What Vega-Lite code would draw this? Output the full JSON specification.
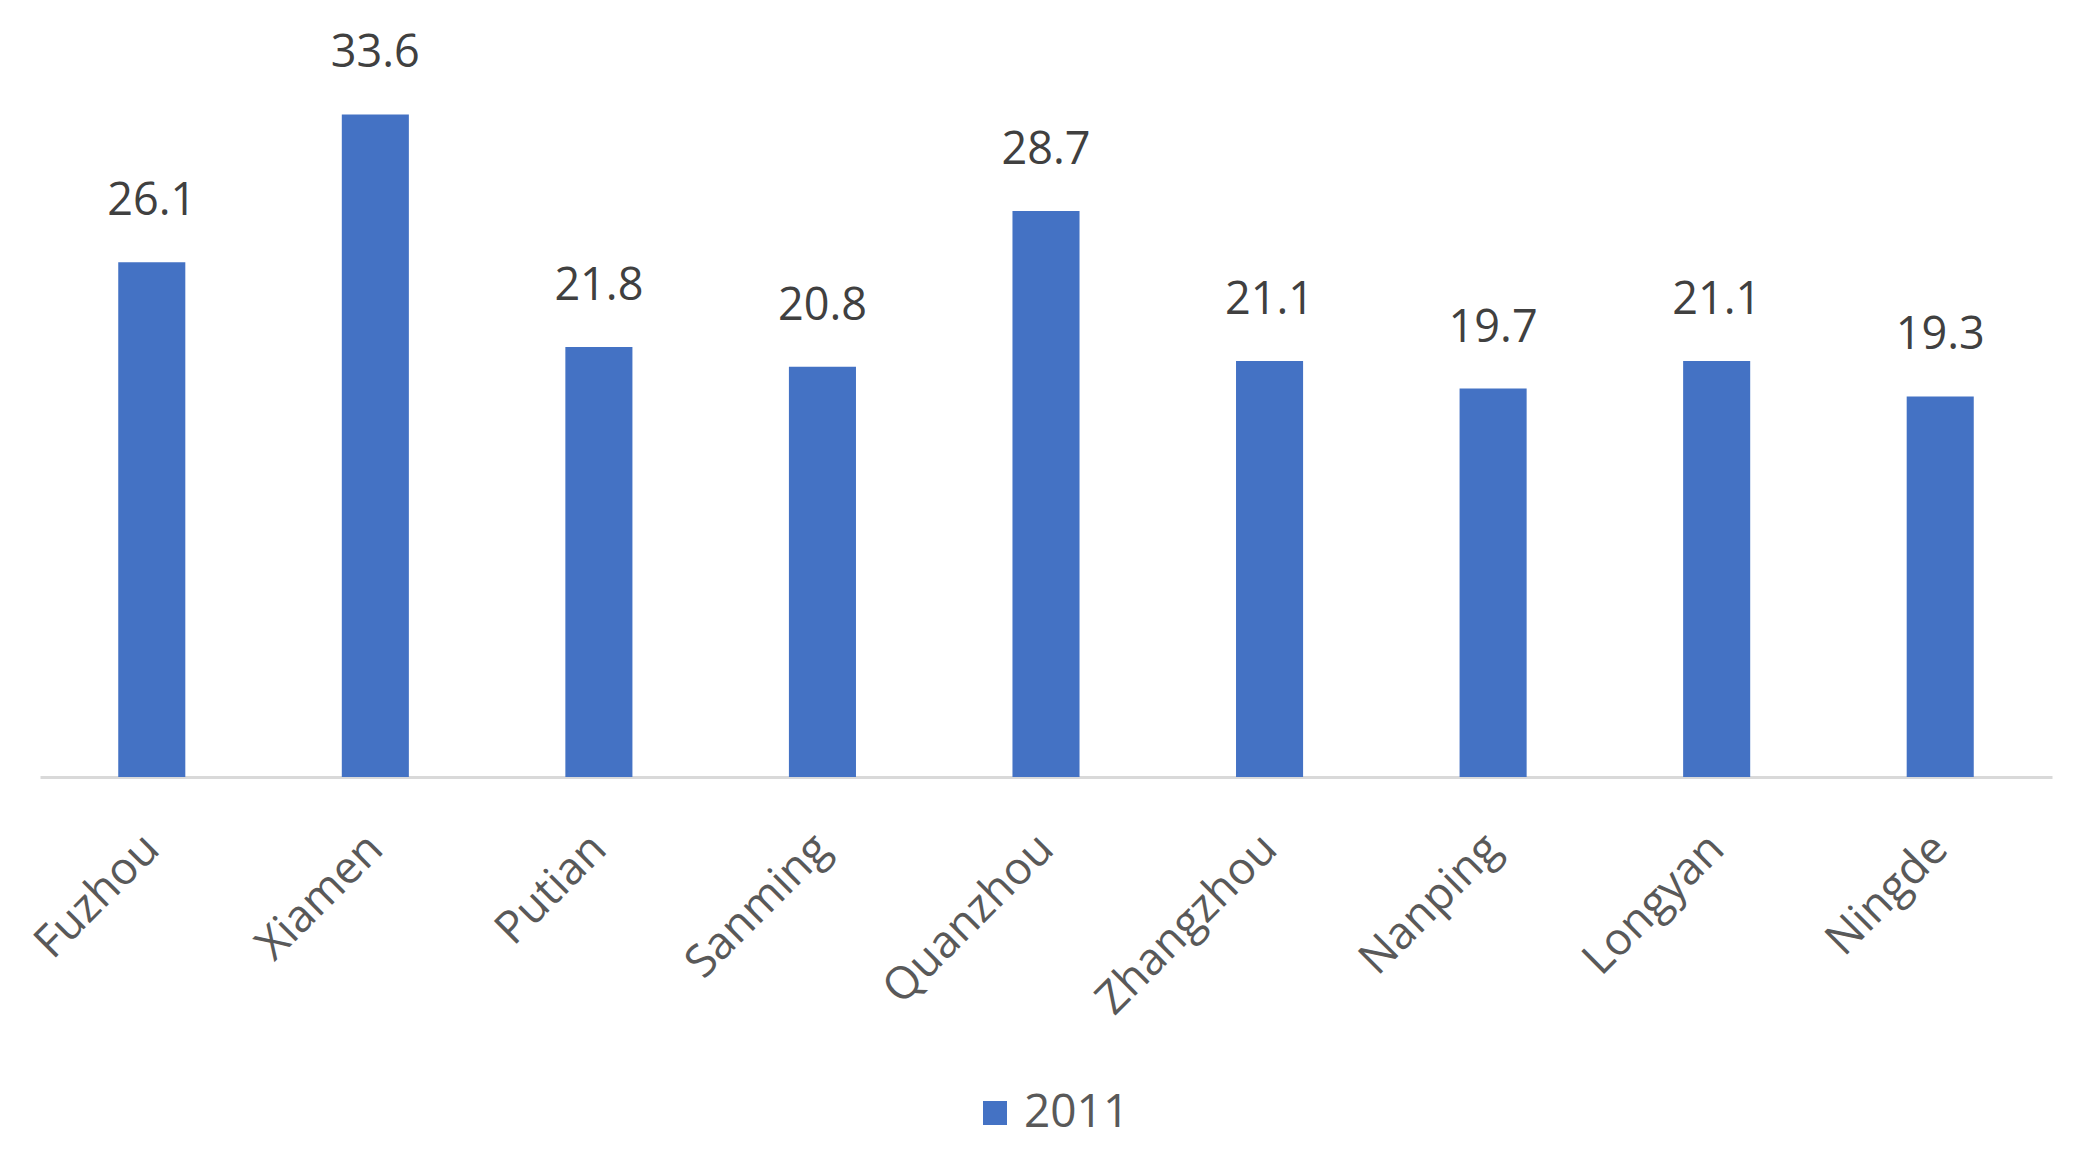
{
  "$schema": "https://vega.github.io/schema/vega-lite/v6.json",
  "autosize": "none",
  "width": 2012,
  "height": 777,
  "padding": {"left": 40, "top": 0, "right": 30, "bottom": 393},
  "background": "white",
  "config": {
    "view": {"stroke": null},
    "font": "Open Sans"
  },
  "data": {
    "values": [
      {"city": "Fuzhou", "value": 26.1, "year": "2011"},
      {"city": "Xiamen", "value": 33.6, "year": "2011"},
      {"city": "Putian", "value": 21.8, "year": "2011"},
      {"city": "Sanming", "value": 20.8, "year": "2011"},
      {"city": "Quanzhou", "value": 28.7, "year": "2011"},
      {"city": "Zhangzhou", "value": 21.1, "year": "2011"},
      {"city": "Nanping", "value": 19.7, "year": "2011"},
      {"city": "Longyan", "value": 21.1, "year": "2011"},
      {"city": "Ningde", "value": 19.3, "year": "2011"}
    ]
  },
  "encoding": {
    "x": {
      "field": "city",
      "type": "nominal",
      "sort": null,
      "scale": {"paddingInner": 0.7, "paddingOuter": 0.35},
      "axis": {
        "title": null,
        "labelAngle": -45,
        "labelAlign": "right",
        "labelBaseline": "middle",
        "labelFontSize": 45,
        "labelColor": "#595959",
        "labelPadding": 64,
        "labelLimit": 0,
        "labelOverlap": false,
        "ticks": false,
        "domainColor": "#d9d9d9",
        "domainWidth": 3,
        "grid": false
      }
    },
    "y": {
      "field": "value",
      "type": "quantitative",
      "scale": {"domain": [0, 39.4], "nice": false, "zero": true},
      "axis": null
    }
  },
  "layer": [
    {
      "mark": {"type": "bar", "color": "#4472C4"},
      "encoding": {
        "color": {
          "field": "year",
          "type": "nominal",
          "scale": {"range": ["#4472C4"]},
          "legend": {
            "title": null,
            "orient": "none",
            "legendX": 932,
            "legendY": 1090,
            "symbolType": "square",
            "symbolSize": 576,
            "symbolStrokeWidth": 0,
            "labelFontSize": 46,
            "labelColor": "#595959",
            "labelOffset": 6,
            "padding": 0
          }
        }
      }
    },
    {
      "mark": {"type": "text", "baseline": "bottom", "dy": -38, "fontSize": 45, "color": "#404040"},
      "encoding": {
        "text": {"field": "value", "type": "quantitative", "format": ".1f"}
      }
    }
  ]
}
